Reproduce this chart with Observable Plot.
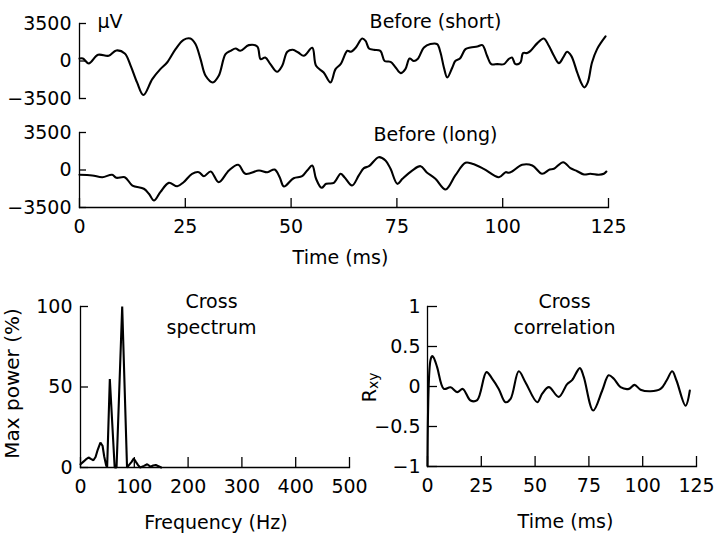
<!DOCTYPE html>
<html><head><meta charset="utf-8">
<script src="https://cdn.jsdelivr.net/npm/d3@7"></script>
<script src="https://cdn.jsdelivr.net/npm/@observablehq/plot@0.6"></script>
<style>
html,body{margin:0;padding:0;background:#fff;}
#wrap{position:relative;width:724px;height:535px;overflow:hidden;background:#fff;}
#wrap svg{position:absolute;}
</style></head><body><div id="wrap"></div>
<script>
// ---- data ----
const voltTicks = [-3500, 0, 3500];
const timeTicks = [0, 25, 50, 75, 100, 125];
const freqTicks = [0, 100, 200, 300, 400, 500];
const powerTicks = [0, 50, 100];
const corrTicks = [-1, -0.5, 0, 0.5, 1];

const shortT = [0,0.8,2.2,4.4,6.9,8.7,10.7,12.1,13.6,15.1,17.2,19.1,20.7,22.7,24.6,26.2,27.4,28.6,29.8,31.5,32.9,34.5,35.7,36.9,38.0,40.0,42.0,42.8,43.9,45.1,46.7,47.9,49.1,50.4,51.7,53.0,55.0,55.9,57.7,59.3,60.5,61.7,63.3,64.1,65.3,66.8,67.6,68.4,69.5,71.1,72.1,73.5,74.7,75.9,77.0,78.0,79.0,79.9,81.4,82.9,84.5,85.3,86.1,86.9,88.1,88.8,89.9,91.2,92.4,94.0,95.2,96.3,97.3,98.7,100.3,101.4,102.2,103.0,104.2,104.8,105.8,106.6,108.2,109.7,110.9,112.1,113.3,114.3,115.2,116.2,117.6,118.5,119.3,120.1,121.1,122.3,124.3];
const shortV = [233,233,-233,580,485,980,700,-450,-2000,-3180,-1690,-760,-140,1110,1980,2100,1580,180,-1380,-2000,-1380,640,950,1170,950,1480,1350,180,330,-290,-1010,-450,860,1045,790,485,1230,-450,-1070,-2000,-760,-290,950,860,1260,2100,1880,1170,1045,950,0,-75,-600,-1130,-760,233,0,180,1260,1580,1580,790,-600,-1540,-600,0,233,1110,1260,1350,1480,485,-290,-290,-290,180,330,-290,-140,740,740,950,1670,2100,1420,485,-200,330,860,485,-1070,-2000,-2470,-2000,-140,1110,2290];

const longT = [0,3.0,5.4,7.7,8.7,10.7,12.5,15.2,16.4,17.6,19.1,21.1,23.1,24.6,26.6,28.2,29.4,31.0,32.9,35.3,37.5,39.2,42.4,44.4,46.1,47.3,48.3,50.6,52.6,53.8,55.0,55.9,57.2,58.3,60.1,61.7,62.6,64.4,66.0,67.2,68.4,70.7,72.3,73.5,75.1,76.3,78.6,80.6,82.0,84.1,86.5,88.8,91.2,92.8,95.5,99.1,100.7,101.4,102.2,104.6,107.0,109.3,111.1,112.1,114.3,116.0,117.6,119.2,120.7,122.7,123.9,124.5];
const longV = [-450,-510,-670,-450,-730,-670,-1450,-1750,-2220,-2850,-2070,-1200,-1510,-1140,-355,-205,-580,-140,-1140,-47,485,-355,-47,-205,47,-670,-1540,-765,-580,-47,420,-820,-1660,-1290,-1200,-355,-670,-1450,-510,170,355,1195,890,110,-1290,-820,-47,355,-205,-820,-1820,-510,670,580,110,-670,-205,-260,-140,485,420,-355,47,110,730,170,-110,-420,-355,-450,-355,-140];

const specF = [0,5,10,15,20,24,28,32,37,41,44,47.5,49.5,54.5,63.5,67,77.5,86.5,90,95,99,103,107,111,118,124,130,135,140,145,150];
const specP = [2,3.5,5,6.2,5.2,4.5,6.5,11,15.5,13.5,7,1.5,0,55,0,0,100,0,1.5,3.5,5.6,3.5,1.5,0,1,2,0.5,1.2,1.5,0.8,0];

const corrT = [0,1.4,2.2,2.9,4.5,7.6,10.7,13.8,16.4,20,23.1,27.4,30.1,33.1,36.2,38.6,42.4,45.5,51,53.3,56.4,61,64.9,67.2,70.8,72.6,77,81.2,84.2,86.6,89.7,93.6,96.2,99,103.6,108.3,111.1,113.7,115.7,119.9,121.9];
const corrR = [-0.99,0.33,0.38,0.36,0.24,-0.03,-0.01,-0.07,-0.03,-0.175,-0.17,0.18,0.096,-0.03,-0.196,-0.154,0.19,0.054,-0.196,-0.09,-0.008,-0.13,0.03,0.08,0.23,0.12,-0.3,-0.05,0.14,0.096,-0.008,-0.03,0.02,-0.04,-0.06,-0.03,0.075,0.19,0.075,-0.24,-0.05];

// ---- build tables ----
const shortData = shortT.map((t, i) => ({t, v: shortV[i]}));
const longData = longT.map((t, i) => ({t, v: longV[i]}));
const specData = specF.map((f, i) => ({f, p: specP[i]}));
const corrData = corrT.map((t, i) => ({t, r: corrR[i]}));

const wrap = document.getElementById("wrap");
const style = {fontFamily: "'DejaVu Sans', sans-serif", fontSize: "19px", background: "transparent", overflow: "visible", color: "#000"};
const fmt = d3.format("");
const blank = () => "";
const AX = 1.3, LW = 2.1;

function place(svg, left, top) {
  svg.style.left = left + "px";
  svg.style.top = top + "px";
  wrap.appendChild(svg);
}

function yAxes(ticks, size, pad) {
  return [
    Plot.axisY(ticks, {tickSize: size, dx: size, tickFormat: blank, label: null, strokeWidth: AX}),
    Plot.axisY(ticks, {tickSize: 0, tickPadding: pad, tickFormat: fmt, label: null})
  ];
}
function xAxes(ticks, size, pad) {
  return [
    Plot.axisX(ticks, {tickSize: size, dy: -size, tickFormat: blank, label: null, strokeWidth: AX}),
    Plot.axisX(ticks, {tickSize: 0, tickPadding: pad, tickFormat: fmt, label: null})
  ];
}

// Panel A: Before (short)
place(Plot.plot({
  width: 724, height: 110, marginLeft: 79, marginRight: 116, marginTop: 23, marginBottom: 12,
  x: {domain: [0, 125], axis: null},
  y: {domain: [-3500, 3500]},
  style,
  marks: [
    Plot.frame({anchor: "left", strokeWidth: AX}),
    ...yAxes(voltTicks, 7, 8),
    Plot.line(shortData, {x: "t", y: "v", curve: "catmull-rom", strokeWidth: LW}),
    Plot.text(["μV"], {frameAnchor: "top-left", dx: 18, dy: 4, textAnchor: "start", lineAnchor: "bottom"}),
    Plot.text(["Before (short)"], {frameAnchor: "top-left", dx: 356, dy: 4, textAnchor: "middle", lineAnchor: "bottom"})
  ]
}), 0, 0);

// Panel B: Before (long)
place(Plot.plot({
  width: 724, height: 170, marginLeft: 79, marginRight: 116, marginTop: 32, marginBottom: 63,
  x: {domain: [0, 125]},
  y: {domain: [-3500, 3500]},
  style,
  marks: [
    Plot.frame({anchor: "left", strokeWidth: AX}),
    Plot.frame({anchor: "bottom", strokeWidth: AX}),
    ...yAxes(voltTicks, 7, 8),
    ...xAxes(timeTicks, 9, 12),
    Plot.line(longData, {x: "t", y: "v", curve: "catmull-rom", strokeWidth: LW}),
    Plot.text(["Before (long)"], {frameAnchor: "top-left", dx: 356, dy: 8.7, textAnchor: "middle", lineAnchor: "bottom"}),
    Plot.text(["Time (ms)"], {frameAnchor: "bottom-left", dx: 261, dy: 56, textAnchor: "middle", lineAnchor: "bottom"})
  ]
}), 0, 100);

// Panel C: Cross spectrum
place(Plot.plot({
  width: 362, height: 230, marginLeft: 80, marginRight: 13, marginTop: 26, marginBottom: 43,
  x: {domain: [0, 500]},
  y: {domain: [0, 100]},
  style,
  marks: [
    Plot.frame({anchor: "left", strokeWidth: AX}),
    Plot.frame({anchor: "bottom", strokeWidth: AX}),
    ...yAxes(powerTicks, 8, 8),
    ...xAxes(freqTicks, 10, 12),
    Plot.line(specData, {x: "f", y: "p", strokeWidth: LW, strokeLinejoin: "miter"}),
    Plot.text(["Cross\nspectrum"], {frameAnchor: "top-left", dx: 131, dy: 27.3, textAnchor: "middle", lineAnchor: "bottom", lineHeight: 1.37}),
    Plot.text(["Frequency (Hz)"], {frameAnchor: "bottom-left", dx: 135.5, dy: 61, textAnchor: "middle", lineAnchor: "bottom"}),
    Plot.text(["Max power (%)"], {frameAnchor: "left", dx: -62, dy: -3.5, rotate: -90, textAnchor: "middle", lineAnchor: "bottom", fontSize: 20})
  ]
}), 0, 280);

// Panel D: Cross correlation
place(Plot.plot({
  width: 362, height: 230, marginLeft: 65, marginRight: 28, marginTop: 26, marginBottom: 44,
  x: {domain: [0, 125]},
  y: {domain: [-1, 1]},
  style,
  marks: [
    Plot.frame({anchor: "left", strokeWidth: AX}),
    Plot.frame({anchor: "bottom", strokeWidth: AX}),
    ...yAxes(corrTicks, 10, 7),
    ...xAxes(timeTicks, 10, 12),
    Plot.line(corrData, {x: "t", y: "r", curve: "catmull-rom", strokeWidth: LW}),
    Plot.text(["Cross\ncorrelation"], {frameAnchor: "top-left", dx: 137, dy: 27.3, textAnchor: "middle", lineAnchor: "bottom", lineHeight: 1.37}),
    Plot.text(["Time (ms)"], {frameAnchor: "bottom-left", dx: 138, dy: 61, textAnchor: "middle", lineAnchor: "bottom"}),
    Plot.text(["R"], {frameAnchor: "left", dx: -52, dy: 15.7, rotate: -90, textAnchor: "start", lineAnchor: "bottom"}),
    Plot.text(["xy"], {frameAnchor: "left", dx: -50, dy: 2.5, rotate: -90, textAnchor: "start", lineAnchor: "bottom", fontSize: 14})
  ]
}), 362, 280);
</script>
</body></html>
